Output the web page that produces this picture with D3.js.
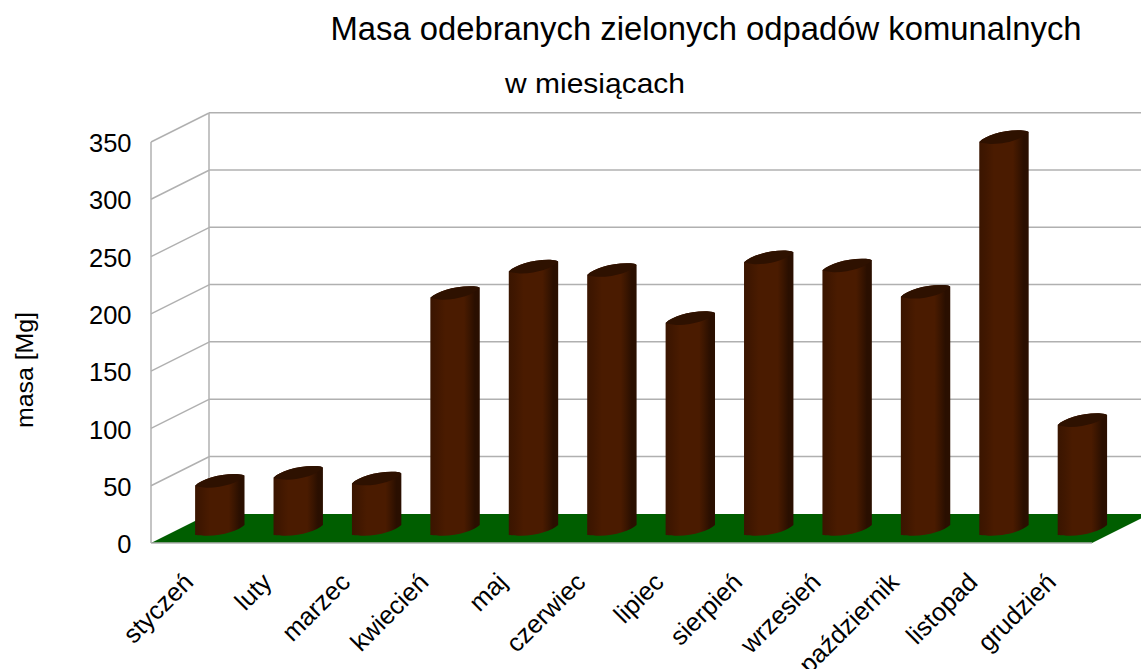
<!DOCTYPE html>
<html><head><meta charset="utf-8">
<script src="https://cdn.jsdelivr.net/npm/d3@7"></script>
<style>html,body{margin:0;padding:0;background:#fff;overflow:hidden}svg{display:block}text{font-family:"Liberation Sans",Arial,sans-serif;fill:#000}</style>
</head><body><svg id="c" width="1141" height="669"></svg>
<script>
const months=["styczeń","luty","marzec","kwiecień","maj","czerwiec","lipiec","sierpień","wrzesień","październik","listopad","grudzień"];
const values=[43,50,45,207,230,227,185,238,231,208,343,96];
const yTicks=[0,50,100,150,200,250,300,350];
const titleText="Masa odebranych zielonych odpadów komunalnych";
const subtitleText="w miesiącach";
const yAxisText="masa [Mg]";

const svg=d3.select("#c");
const L=151,R=1092,B=543,T=142,DX=58,DY=29;
const x=d3.scaleBand().domain(months).range([L,R]);
const y=d3.scaleLinear().domain([0,350]).range([B,T]);

const defs=svg.append("defs");
const g=defs.append("linearGradient").attr("id","cyl");
[[0,"#3a1500"],[0.13,"#401700"],[0.3,"#4a1b00"],[0.68,"#4a1b00"],[0.78,"#3c1600"],[0.9,"#2a0f00"],[1,"#2a0f00"]]
 .forEach(s=>g.append("stop").attr("offset",s[0]).attr("stop-color",s[1]));

const grid="#b0b0b0", gw=1.5;
svg.append("polygon").attr("fill","#005e00")
 .attr("points",[[L,B],[L+DX,B-DY],[R+DX,B-DY],[R,B]].map(p=>p.join(",")).join(" "));
yTicks.forEach(t=>{
  if(t>0) svg.append("line").attr("x1",L+DX).attr("x2",R+DX).attr("y1",y(t)-DY-0.3).attr("y2",y(t)-DY-0.3).attr("stroke",grid).attr("stroke-width",gw);
  if(t>0) svg.append("line").attr("x1",L).attr("x2",L+DX).attr("y1",y(t)).attr("y2",y(t)-DY).attr("stroke",grid).attr("stroke-width",gw);
});
svg.append("line").attr("x1",L).attr("x2",L).attr("y1",T).attr("y2",B).attr("stroke",grid).attr("stroke-width",gw);
svg.append("line").attr("x1",L+DX).attr("x2",L+DX).attr("y1",T-DY).attr("y2",B-DY).attr("stroke",grid).attr("stroke-width",gw);
svg.append("line").attr("x1",L).attr("x2",R).attr("y1",B).attr("y2",B).attr("stroke",grid).attr("stroke-width",gw);

const w=x.bandwidth()*0.63, a=w/2, baseOff=13, shift=0.6;
const lowerEdge=(cx,cy,e=0)=>`C${cx+a-6},${cy+0.5+e} ${cx-a+28},${cy+6+e} ${cx-a+11},${cy+5.7+e} C${cx-a+6},${cy+5.6+e} ${cx-a+1},${cy+5.3} ${cx-a},${cy+5}`;
const upperEdge=(cx,cy)=>`C${cx-a+7},${cy-2} ${cx+a-24},${cy-7.5} ${cx+a-6},${cy-6.6} C${cx+a-3},${cy-6.5} ${cx+a-1},${cy-6} ${cx+a},${cy-5}`;
const bars=svg.append("g").selectAll("g").data(months.map((m,i)=>({m,v:values[i]}))).join("g");
bars.each(function(d){
  const cx=x(d.m)+x.bandwidth()/2+DX/2+shift;
  const cb=y(0)-baseOff, ct=y(d.v)-baseOff;
  const gg=d3.select(this);
  gg.append("path").attr("d",`M${cx-a},${ct+5} ${upperEdge(cx,ct)} L${cx+a},${cb-5} ${lowerEdge(cx,cb)} Z`).attr("fill","url(#cyl)");
  gg.append("path").attr("d",`M${cx-a},${ct+5} ${upperEdge(cx,ct)} ${lowerEdge(cx,ct,1.2)} Z`).attr("fill","#2e1100");
});

const ax=svg.append("g").attr("transform",`translate(${L-19.5},0)`).call(d3.axisLeft(y).tickValues(yTicks).tickSize(0).tickPadding(0));
ax.select(".domain").remove();
ax.selectAll("text").attr("font-size",25.5).attr("dy","0.38em").style("font-family",'"Liberation Sans"');

months.forEach(m=>{
  const px=x(m)+x.bandwidth()/2+DX/2-37, py=B+28;
  svg.append("text").attr("transform",`translate(${px},${py}) rotate(-45)`).attr("text-anchor","end").attr("dy","0.7em").attr("font-size",25.5).text(m);
});

svg.append("text").attr("x",706).attr("y",40).attr("text-anchor","middle").attr("font-size",32.8).text(titleText);
svg.append("text").attr("x",595).attr("y",93).attr("text-anchor","middle").attr("font-size",27.5).attr("textLength",180).attr("lengthAdjust","spacingAndGlyphs").text(subtitleText);
svg.append("text").attr("transform","translate(33,370) rotate(-90)").attr("text-anchor","middle").attr("font-size",23).attr("textLength",116).attr("lengthAdjust","spacingAndGlyphs").text(yAxisText);
</script></body></html>
